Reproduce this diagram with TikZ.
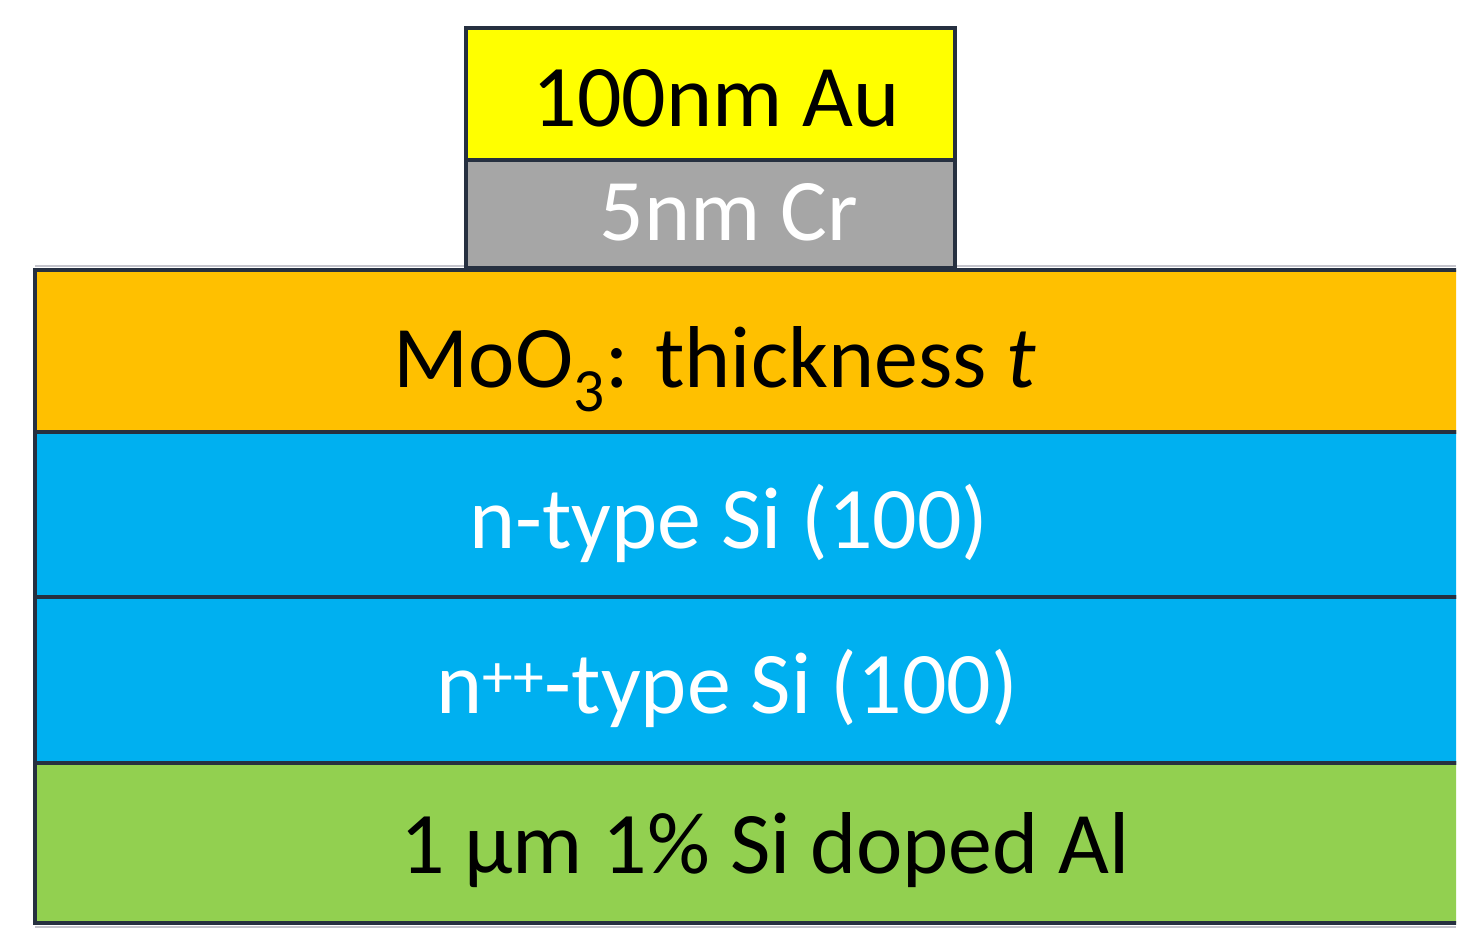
\documentclass[tikz,border=0pt]{standalone}
\usepackage{fontspec}
\setmainfont{Carlito}
\definecolor{edge}{HTML}{263040}
\definecolor{aucol}{HTML}{FFFF00}
\definecolor{crcol}{HTML}{A6A6A6}
\definecolor{moocol}{HTML}{FFC000}
\definecolor{sicol}{HTML}{00B0F0}
\definecolor{alcol}{HTML}{92D050}
\definecolor{rim}{HTML}{C4C4CC}

\begin{document}
\begin{tikzpicture}[x=0.02cm, y=-0.02cm,
    layer/.style={draw=edge, line width=0.09cm},
    caption/.style={anchor=base, inner sep=0pt, font=\fontsize{50}{60}\selectfont}]
    \useasboundingbox (0,0) rectangle (1484,943);

    % light rim above and below the stack
    \draw [rim, line width=0.04cm] (35,266) -- (1456,266);
    \draw [rim, line width=0.04cm] (35,927) -- (1456,927);

    % the stack runs off the right edge
    \begin{scope}
      \clip (0,0) rectangle (1456,943);
      \draw [layer, fill=alcol]  (35,763) rectangle (1500,923);
      \draw [layer, fill=sicol]  (35,597) rectangle (1500,763);
      \draw [layer, fill=sicol]  (35,432) rectangle (1500,597);
      \draw [layer, fill=moocol] (35,270) rectangle (1500,432);
    \end{scope}
    \draw [layer, fill=crcol] (466,160) rectangle (955,268);
    \draw [layer, fill=aucol] (466,28) rectangle (955,160);

    \node [caption]             (au)    at (716,126) {100nm Au};
    \node [caption, text=white] (cr)    at (729,240) {5nm Cr};
    \node [caption]             (moo)   at (715,387) {MoO\textsubscript{3}: thickness \textit{t}};
    \node [caption, text=white] (nsi)   at (729,548) {n-type Si (100)};
    \node [caption, text=white] (nppsi) at (727,713) {n\textsuperscript{++}-type Si (100)};
    \node [caption]             (al)    at (765,873) {1 μm 1\% Si doped Al};
\end{tikzpicture}
\end{document}
